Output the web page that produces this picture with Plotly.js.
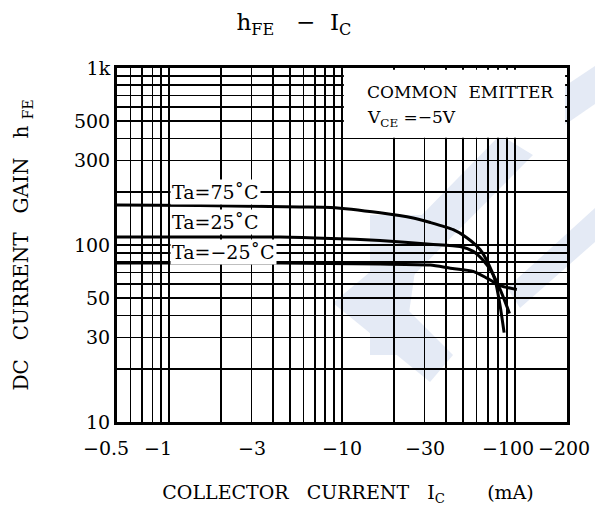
<!DOCTYPE html>
<html>
<head>
<meta charset="utf-8">
<script src="https://cdn.plot.ly/plotly-3.0.1.min.js"></script>
<style>html,body{margin:0;padding:0;background:#fff;}#chart{width:595px;height:514px;}</style>
</head>
<body>
<div id="chart"></div>
<script>
// ---- data (Ic in mA, magnitude; hFE) ----
const ic75  = [0.5, 1.5, 5.7, 8.6, 16.6, 25.8, 32.4, 44, 52.7, 63, 70, 76.9, 82.2, 86.6];
const hfe75 = [168, 167, 164, 163, 152, 142, 134, 122, 110, 94, 79, 63, 45, 32];
const ic25  = [0.5, 4.4, 8.6, 16.6, 32.4, 48.2, 57.4, 65.5, 73.6, 82.2, 89.8, 93];
const hfe25 = [111, 111, 109, 106, 101, 98, 92, 82, 70, 56, 45, 41];
const icM25  = [0.5, 4.4, 16.6, 32.4, 42.3, 57.4, 68.8, 82.2, 102.6];
const hfeM25 = [79, 79, 78, 77, 74, 71, 65, 59, 56];

const seriesNames = ["Ta=75˚C", "Ta=25˚C", "Ta=−25˚C"];
const labelY = [200, 135, 91];

const xGrid = [0.6,0.7,0.8,0.9,1,2,3,4,5,6,7,8,9,10,20,30,40,50,60,70,80,90,100];
const xTickVals = [0.5, 1, 3, 10, 30, 100, 200];
const xTickText = ["−0.5", "−1", "−3", "−10", "−30", "−100", "−200"];
const xTickShift = [-11, -11, 0, 0, 0, -7, -3];

const yGrid = [10,20,30,40,50,60,70,80,90,100,200,300,400,500,600,700,800,900,1000];
const yLabelVals = [10, 30, 50, 100, 300, 500, 1000];
const yLabelText = ["10", "30", "50", "100", "300", "500", "1k"];

const FONT = "DejaVu Serif";
const lg = v => Math.log10(v);
const sp = n => "&nbsp;".repeat(n);

const traces = [
  {x: ic75, y: hfe75, name: seriesNames[0]},
  {x: ic25, y: hfe25, name: seriesNames[1]},
  {x: icM25, y: hfeM25, name: seriesNames[2]}
].map(t => Object.assign(t, {type: "scatter", mode: "lines",
  line: {color: "#000", width: 3, shape: "spline", smoothing: 0.6}, hoverinfo: "skip"}));

const annotations = [];
xTickVals.forEach((v, i) => annotations.push({
  xref: "x", yref: "paper", x: lg(v), y: 0, yanchor: "top", xanchor: "center",
  yshift: -13, xshift: xTickShift[i], showarrow: false, text: xTickText[i],
  font: {family: FONT, size: 19, color: "#000"}
}));
seriesNames.forEach((n, i) => annotations.push({
  xref: "x", yref: "y", x: lg(1), y: lg(labelY[i]), xanchor: "left", yanchor: "middle",
  xshift: 1, showarrow: false, text: n, bgcolor: "#fff", borderpad: 1,
  font: {family: FONT, size: 19, color: "#000"}
}));
annotations.push({
  xref: "x", yref: "y", x: lg(13.6), y: lg(735), xanchor: "left", yanchor: "middle",
  showarrow: false, align: "left",
  text: "COMMON" + sp(2) + "EMITTER",
  font: {family: FONT, size: 17, color: "#000"}
});
annotations.push({
  xref: "x", yref: "y", x: lg(13.6), y: lg(520), xanchor: "left", yanchor: "middle",
  showarrow: false, align: "left",
  text: "V<sub>CE</sub> =−5V",
  font: {family: FONT, size: 17, color: "#000"}
});

const wm = "#e4eaf5";
function poly(pts) {
  // page pixels -> paper coords (plot area 117..567 x, 68..422 y)
  return "M" + pts.map(p => ((p[0]-117)/450).toFixed(4) + "," + ((422-p[1])/354).toFixed(4)).join("L") + "Z";
}
const wmPolys = [
  [[595,66],[595,104],[550,135],[517,118]],
  [[500,135],[533,155],[407,282],[370,268]],
  [[370,215],[423,215],[403,355],[370,355]],
  [[333,303],[370,272],[453,355],[430,382]],
  [[595,208],[595,242],[520,308],[507,288]]
];
const shapes = wmPolys.map(p => ({type: "path", xref: "paper", yref: "paper", layer: "below",
  fillcolor: wm, line: {width: 0}, path: poly(p)}));
shapes.push({type: "rect", xref: "x", yref: "y", layer: "above", fillcolor: "#fff", line: {width: 0},
   x0: 10.25, x1: 195, y0: 404, y1: 978});

const layout = {
  width: 595, height: 514,
  margin: {l: 117, r: 28, t: 68, b: 92},
  paper_bgcolor: "#fff", plot_bgcolor: "rgba(0,0,0,0)",
  showlegend: false,
  font: {family: FONT, color: "#000"},
  title: {text: "h<sub>FE</sub>" + sp(3) + "−" + sp(2) + "I<sub>C</sub>", x: 0.494, xanchor: "center",
          xref: "container", y: 0.957, yref: "container", yanchor: "middle",
          font: {family: FONT, size: 23, color: "#000"}},
  xaxis: {type: "log", range: [lg(0.5), lg(200)], tickvals: xGrid, showticklabels: false,
          ticks: "", showgrid: true, gridcolor: "#000", gridwidth: 1.6, zeroline: false,
          showline: true, mirror: true, linecolor: "#000", linewidth: 3,
          title: {text: sp(2) + "COLLECTOR" + sp(3) + "CURRENT" + sp(3) + "I<sub>C</sub>" + sp(7) + "(mA)",
                  standoff: 62, font: {family: FONT, size: 19, color: "#000"}}},
  yaxis: {type: "log", range: [1, 3], tickvals: yGrid,
          ticktext: yGrid.map(v => { const k = yLabelVals.indexOf(v); return k >= 0 ? yLabelText[k] : ""; }),
          ticks: "", showgrid: true, gridcolor: "#000", gridwidth: 1.6, zeroline: false,
          showline: true, mirror: true, linecolor: "#000", linewidth: 3,
          tickfont: {family: FONT, size: 19, color: "#000"},
          title: {text: "DC" + sp(3) + "CURRENT" + sp(3) + "GAIN" + sp(3) + "h" + sp(1) + "<sub>FE</sub>", standoff: 40,
                  font: {family: FONT, size: 20, color: "#000"}}},
  annotations: annotations,
  shapes: shapes
};

Plotly.newPlot("chart", traces, layout, {staticPlot: true, displayModeBar: false});
</script>
</body>
</html>
